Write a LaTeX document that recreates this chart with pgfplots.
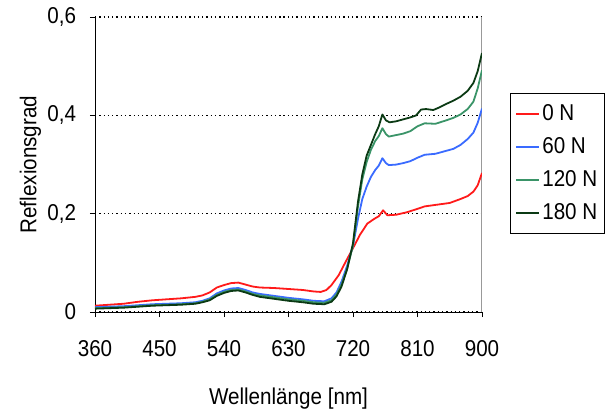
\documentclass[border=0pt]{standalone}
\usepackage{fontspec}
\setmainfont[FakeStretch=0.9]{Liberation Sans}
\usepackage{pgfplots}
\pgfplotsset{compat=1.18}
\definecolor{cRed}{HTML}{FF1A1A}
\definecolor{cBlue}{HTML}{3A6BFF}
\definecolor{cGreen}{HTML}{3A9468}
\definecolor{cDark}{HTML}{0B3A14}
\begin{document}
\fontsize{23}{27}\selectfont
\begin{tikzpicture}
\begin{axis}[
  scale only axis, width=387bp, height=295bp,
  xmin=360, xmax=900, ymin=0, ymax=0.6,
  xtick={360,450,...,900}, ytick={0,0.2,0.4,0.6},
  axis x line*=bottom, axis y line*=left,
  axis line style={-, black, line width=0.8pt},
  tick align=outside, major tick length=5bp,
  tick style={black, line width=0.8pt},
  ymajorgrids,
  grid style={black, line width=1.3pt, dash pattern=on 1.3pt off 3pt},
  /pgf/number format/assume math mode=true,
  /pgf/number format/use comma,
  yticklabel style={/pgf/number format/fixed, /pgf/number format/precision=1, xshift=-6bp},
  xticklabel style={yshift=-16bp},
  ylabel={Reflexionsgrad},
  xlabel={Wellenlänge [nm]},
  ylabel style={yshift=-9bp},
  xlabel style={yshift=-15bp},
  legend cell align=left,
  legend style={at={(rel axis cs:1,1)}, anchor=north west, xshift=28bp, yshift=-76bp,
    draw=black, line width=0.6pt, row sep=9.5bp, inner xsep=5bp, inner ysep=9bp},
  legend image code/.code={\draw[#1, line width=2bp] (0bp,0bp) -- (23bp,0bp);},
  every axis plot/.append style={line width=1.8bp, line join=round},
]
\coordinate (A) at (rel axis cs:0,0);
\draw[gray!80, line width=1pt] (rel axis cs:1,0) -- (rel axis cs:1,1);
\addplot[cRed] coordinates {
(360,0.013)(380,0.015)(400,0.017)(420,0.021)(440,0.024)(460,0.026)(480,0.028)(500,0.031)(510,0.034)(520,0.040)(530,0.050)(540,0.055)(550,0.059)(560,0.060)(570,0.056)(580,0.052)(590,0.050)(610,0.049)(630,0.047)(650,0.045)(665,0.042)(675,0.041)(683,0.045)(690,0.055)(700,0.075)(710,0.103)(720,0.130)(730,0.158)(740,0.180)(750,0.190)(756,0.195)(762,0.207)(768,0.197)(780,0.198)(795,0.203)(810,0.210)(820,0.215)(840,0.219)(855,0.222)(870,0.230)(880,0.236)(888,0.245)(894,0.258)(900,0.283)};
\addlegendentry{0 N}
\addplot[cBlue] coordinates {
(360,0.010)(380,0.011)(400,0.012)(420,0.014)(440,0.016)(460,0.017)(480,0.018)(500,0.020)(510,0.023)(520,0.028)(530,0.038)(540,0.044)(550,0.048)(560,0.049)(570,0.045)(580,0.040)(590,0.037)(610,0.033)(630,0.029)(650,0.026)(665,0.023)(680,0.022)(690,0.028)(697,0.040)(704,0.062)(712,0.095)(720,0.135)(727,0.190)(733,0.230)(739,0.255)(745,0.275)(751,0.289)(756,0.298)(761,0.313)(766,0.303)(770,0.299)(780,0.300)(790,0.303)(800,0.307)(810,0.314)(820,0.320)(835,0.322)(850,0.328)(860,0.332)(870,0.340)(880,0.352)(888,0.365)(894,0.385)(900,0.414)};
\addlegendentry{60 N}
\addplot[cGreen] coordinates {
(360,0.008)(380,0.009)(400,0.010)(420,0.012)(440,0.014)(460,0.015)(480,0.016)(500,0.018)(510,0.021)(520,0.026)(530,0.035)(540,0.041)(550,0.045)(560,0.046)(570,0.042)(580,0.037)(590,0.034)(610,0.030)(630,0.026)(650,0.023)(665,0.020)(680,0.019)(690,0.024)(697,0.036)(704,0.056)(712,0.090)(720,0.135)(727,0.215)(733,0.270)(739,0.305)(745,0.330)(751,0.348)(756,0.358)(761,0.374)(766,0.362)(770,0.357)(780,0.360)(790,0.363)(800,0.368)(810,0.378)(820,0.384)(835,0.383)(850,0.390)(860,0.395)(870,0.402)(880,0.413)(888,0.428)(894,0.455)(900,0.492)};
\addlegendentry{120 N}
\addplot[cDark] coordinates {
(360,0.007)(380,0.008)(400,0.009)(420,0.011)(440,0.013)(460,0.014)(480,0.015)(500,0.017)(510,0.020)(520,0.024)(530,0.033)(540,0.039)(550,0.043)(560,0.044)(570,0.040)(580,0.035)(590,0.031)(610,0.027)(630,0.023)(650,0.020)(665,0.017)(680,0.016)(690,0.021)(697,0.032)(704,0.052)(712,0.088)(720,0.140)(727,0.225)(733,0.280)(739,0.318)(745,0.340)(751,0.362)(756,0.378)(761,0.402)(766,0.390)(771,0.386)(780,0.388)(790,0.392)(800,0.396)(808,0.400)(815,0.412)(822,0.413)(832,0.411)(840,0.416)(851,0.424)(860,0.430)(870,0.438)(880,0.450)(888,0.466)(894,0.490)(900,0.527)};
\addlegendentry{180 N}
\end{axis}
\path[use as bounding box] ([shift={(-95bp,-99bp)}]A) rectangle ([shift={(518bp,312bp)}]A);
\end{tikzpicture}
\end{document}
